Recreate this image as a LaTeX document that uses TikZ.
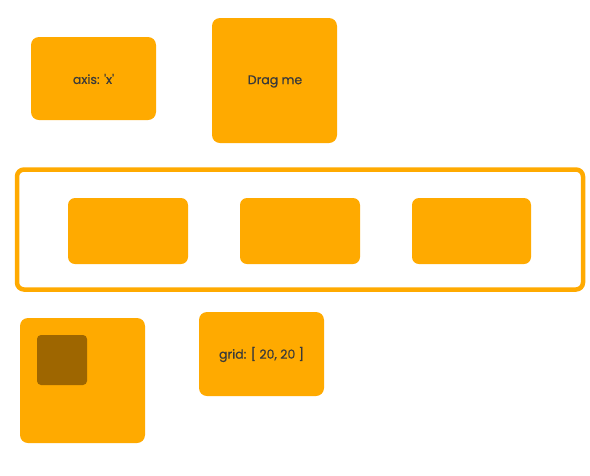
\documentclass[tikz,border=0pt]{standalone}
\usepackage{fontspec}
\setmainfont{Poppins}
\newfontfamily\lblfont{Poppins}[UprightFeatures={FakeBold=0.5}]
\definecolor{amber}{HTML}{FFAA00}
\definecolor{darkamber}{HTML}{9E6600}
\definecolor{txt}{HTML}{3A3A3A}
\begin{document}
\begin{tikzpicture}[x=1pt,y=-1pt,
  card/.style={fill=amber,rounded corners=8pt},
  lbl/.style={text=txt,font=\lblfont\fontsize{12.5}{15}\selectfont}]
\useasboundingbox (0,0) rectangle (590,475);
\fill[white] (0,0) rectangle (590,475);
\fill[card] (31,37) rectangle (156,120);
\node[lbl] (axis) at (93.5,79) {axis: \textquotesingle x\textquotesingle};
\fill[card] (212,18) rectangle (337,143);
\node[lbl] (drag) at (275,81.5) {Drag me};
\draw[amber,line width=4.5pt,rounded corners=7pt] (17,169.5) rectangle (583,289.5);
\fill[card,rounded corners=7pt] (68,198) rectangle (188,264);
\fill[card,rounded corners=7pt] (240,198) rectangle (360,264);
\fill[card,rounded corners=7pt] (412,198) rectangle (531,264);
\fill[card] (20,318) rectangle (145,443);
\fill[darkamber,rounded corners=4pt] (37,335) rectangle (87,385);
\fill[card] (199,312) rectangle (324,396);
\node[lbl] (grid) at (261.5,354.5) {grid: [ 20, 20 ]};
\end{tikzpicture}
\end{document}
